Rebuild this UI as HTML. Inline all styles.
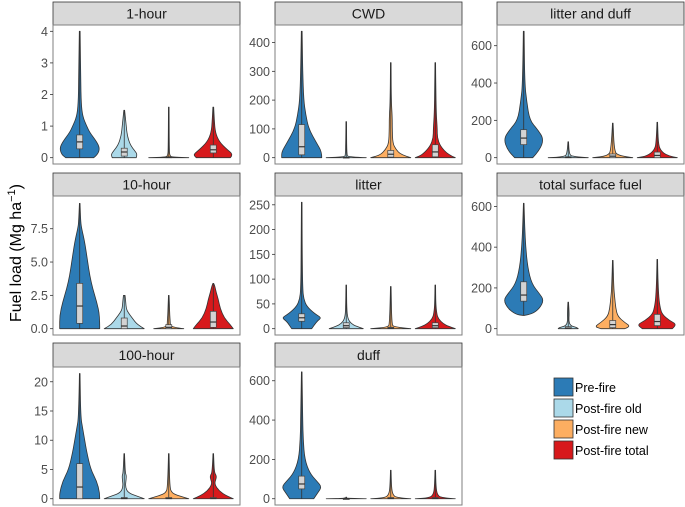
<!DOCTYPE html>
<html><head><meta charset="utf-8"><style>
body{margin:0;background:#fff;}
svg{display:block;font-family:"Liberation Sans",Arial,sans-serif;}
</style></head><body>
<svg id="chart" width="685" height="507" viewBox="0 0 685 507"></svg>
<script>
const panelNames = ["1-hour","CWD","litter and duff","10-hour","litter","total surface fuel","100-hour","duff"];
const panelMax = [4.0, 439, 677, 9.48, 255, 620, 21.45, 638];
const panelTicks = [[0,1,2,3,4],[0,100,200,300,400],[0,200,400,600],[0,2.5,5,7.5],[0,50,100,150,200,250],[0,200,400,600],[0,5,10,15,20],[0,200,400,600]];
const tickLabels = [["0","1","2","3","4"],["0","100","200","300","400"],["0","200","400","600"],["0.0","2.5","5.0","7.5"],["0","50","100","150","200","250"],["0","200","400","600"],["0","5","10","15","20"],["0","200","400","600"]];
const groups = ["Pre-fire","Post-fire old","Post-fire new","Post-fire total"];
const groupColors = ["#2c7bb6","#abd9e9","#fdae61","#d7191c"];
// violin profiles: [value, relative density width (0-20)]
const violins = [
 [[[0,14],[0.1,18],[0.3,20],[0.5,17],[0.8,10],[1.0,7],[1.3,3],[1.7,1.5],[2.5,1],[4,0.4]],
  [[0,12],[0.1,13],[0.2,11],[0.4,6],[0.7,3],[1,2],[1.5,0.4]],
  [[0,20],[0.02,4],[0.05,1],[0.3,0.5],[1.6,0.3]],
  [[0,17],[0.1,20],[0.25,14],[0.5,6],[0.8,2],[1.2,1],[1.6,0.4]]],
 [[[0,20],[20,20],[50,15],[100,7],[150,4],[200,2],[300,1],[439,0.4]],
  [[0,20],[3,2],[10,0.5],[125,0.3]],
  [[0,20],[10,10],[30,5],[50,2],[100,1.5],[140,1.5],[200,0.5],[330,0.3]],
  [[0,20],[10,13],[40,5],[70,2],[100,2],[150,1],[250,0.5],[330,0.3]]],
 [[[0,9],[40,16],[100,20],[150,14],[200,6],[300,3],[400,1],[677,0.4]],
  [[0,20],[5,4],[20,1],[85,0.3]],
  [[0,20],[10,5],[40,1.5],[185,0.3]],
  [[0,20],[10,10],[40,3],[80,1],[190,0.3]]],
 [[[0,20],[1,20],[2,17],[3,13],[4,10],[5,8],[6.5,5],[7.5,2],[8,1],[9.4,0.3]],
  [[0,20],[0.3,13],[0.8,8],[1.2,4],[1.5,2],[2,1.5],[2.5,0.8]],
  [[0,15],[0.1,4],[0.3,1.5],[0.5,1.5],[1,1],[1.7,0.7],[2.5,0.3]],
  [[0,20],[0.3,17],[0.8,11],[1.5,7],[2.2,5],[2.7,3],[3.2,1.5],[3.4,0.4]]],
 [[[0,10],[15,15],[22,20],[30,13],[45,5],[60,2],[80,1],[150,0.5],[255,0.3]],
  [[0,17],[5,10],[10,5],[20,1.5],[40,0.5],[88,0.3]],
  [[0,20],[3,3],[10,1],[85,0.3]],
  [[0,20],[5,13],[10,8],[20,3],[30,1.5],[50,0.5],[88,0.3]]],
 [[[65,0.5],[70,8],[100,16],[140,20],[170,16],[220,8],[300,4],[400,2],[500,1],[615,0.3]],
  [[0,10],[5,9],[15,2],[40,0.5],[70,1],[130,0.3]],
  [[0,12],[10,18],[30,12],[60,5],[100,3],[150,2],[200,1],[335,0.3]],
  [[0,15],[20,20],[40,12],[70,5],[100,3],[150,1.5],[250,0.6],[340,0.3]]],
 [[[0,20],[1,20],[3,17],[5,11],[8,7],[10,5],[12,3],[14,1],[21.4,0.3]],
  [[0,20],[0.5,12],[1,4],[2,1],[3.5,2],[4,2],[4.5,1],[7.7,0.3]],
  [[0,20],[0.5,10],[1,3],[2,1],[7.7,0.3]],
  [[0,20],[0.5,13],[1.3,6],[2.5,1],[3.5,3],[4,3],[4.5,1],[7.7,0.3]]],
 [[[0,12],[30,16],[60,20],[90,15],[130,8],[200,3],[300,1.5],[400,1],[645,0.3]],
  [[0,20],[2,0.5],[8,0.3]],
  [[0,20],[5,6],[20,2],[60,0.7],[145,0.3]],
  [[0,20],[5,6],[20,2],[60,0.7],[145,0.3]]]
];
// boxes: [q1, median, q3]
const boxes = [
 [[0.28,0.5,0.72],[0.05,0.18,0.3],[0,0.01,0.03],[0.15,0.25,0.4]],
 [[10,38,115],[0,0.5,2],[2,12,25],[3,20,45]],
 [[70,105,150],[0,2,5],[0,8,20],[0,12,30]],
 [[0.4,1.7,3.4],[0,0.2,0.8],[0,0.1,0.3],[0.1,0.5,1.3]],
 [[15,22,30],[2,6,12],[0,1,3],[2,6,12]],
 [[135,165,230],[0,3,10],[5,20,40],[15,35,70]],
 [[0,2,6],[0,0.05,0.2],[0,0.05,0.2],[0,0.05,0.2]],
 [[50,75,115],[0,0.5,1],[0,2,6],[0,2,6]]
];

const svg = document.getElementById('chart');
const NS = 'http://www.w3.org/2000/svg';
function mk(tag, attrs, parent){const e=document.createElementNS(NS,tag);for(const k in attrs)e.setAttribute(k,attrs[k]);(parent||svg).appendChild(e);return e;}
const cols = [[53,240],[275,462],[497,684]];
const rows = [[2,25,164],[173,196,335],[343,367,505]];

function smoothPath(pts){
  let d='M'+pts[0][0]+','+pts[0][1];
  for(let i=1;i<pts.length-1;i++){
    const mx=(pts[i][0]+pts[i+1][0])/2,my=(pts[i][1]+pts[i+1][1])/2;
    d+=' Q'+pts[i][0]+','+pts[i][1]+' '+mx+','+my;
  }
  const l=pts[pts.length-1];d+=' L'+l[0]+','+l[1];
  return d;
}

panelNames.forEach((name,p)=>{
  const c=cols[p%3], r=rows[Math.floor(p/3)];
  const x0=c[0],x1=c[1],st=r[0],top=r[1],bot=r[2];
  const g=mk('g',{});
  
  
  const max=panelMax[p], lo=-0.05*max, hi=max*1.05;
  const y=v=>bot-(v-lo)/(hi-lo)*(bot-top);
  const unit=(x1-x0)/4.2;
  const xc=i=>x0+(0.6+i)*unit;
  const strip=mk('rect',{x:x0,y:st,width:x1-x0,height:top-st,fill:'#d9d9d9',stroke:'#333','stroke-width':0.8},g);
  
  
  const t=mk('text',{x:(x0+x1)/2,y:st+(top-st)/2+5,'text-anchor':'middle','font-size':14,fill:'#1a1a1a'},g);
  t.textContent=name;
  
  
  mk('rect',{x:x0,y:top,width:x1-x0,height:bot-top,fill:'#fff',stroke:'#7f7f7f','stroke-width':1},g);
  panelTicks[p].forEach((tv,k)=>{
    const yy=y(tv);
    mk('line',{x1:x0-3,x2:x0,y1:yy,y2:yy,stroke:'#333','stroke-width':0.8},g);
    const tl=mk('text',{x:x0-5,y:yy+4.5,'text-anchor':'end','font-size':12.5,fill:'#4d4d4d'},g);
    tl.textContent=tickLabels[p][k];
    
    
  });
  violins[p].forEach((prof,gi)=>{
    const cx=xc(gi);
    const right=prof.map(q=>[cx+q[1]/20*0.45*unit,y(q[0])]);
    const left=prof.slice().reverse().map(q=>[cx-q[1]/20*0.45*unit,y(q[0])]);
    const d=smoothPath(right)+' L'+left[0][0]+','+left[0][1]+' '+smoothPath(left).slice(1).replace(/^[^ ]*/,'')+' Z';
    const v=mk('path',{d:d,fill:groupColors[gi],stroke:'#333','stroke-width':0.8,'stroke-linejoin':'round'},g);
    
    
    const vmin=prof[0][0], vmax=prof[prof.length-1][0];
    mk('line',{x1:cx,x2:cx,y1:y(vmin),y2:y(vmax),stroke:'#333','stroke-width':0.8},g);
    const b=boxes[p][gi];
    const bw=3;
    const br=mk('rect',{x:cx-bw,y:y(b[2]),width:bw*2,height:Math.max(1,y(b[0])-y(b[2])),fill:'#d3d3d3',stroke:'#444','stroke-width':0.7},g);
    
    
    mk('line',{x1:cx-bw,x2:cx+bw,y1:y(b[1]),y2:y(b[1]),stroke:'#333','stroke-width':1.2},g);
  });
});

const yt=mk('text',{transform:'translate(21,253) rotate(-90)','text-anchor':'middle','font-size':16,fill:'#000'});
yt.innerHTML='Fuel load (Mg ha<tspan dy="-6" font-size="11">−1</tspan><tspan dy="6">)</tspan>';



groups.forEach((gname,i)=>{
  const yy=378+i*21;
  const r=mk('rect',{x:554,y:yy,width:19,height:18,fill:groupColors[i],stroke:'#333','stroke-width':0.8});
  
  
  const t=mk('text',{x:575,y:yy+14,'font-size':12.5,fill:'#000'});
  t.textContent=gname;
  
  
});
</script>
</body></html>
